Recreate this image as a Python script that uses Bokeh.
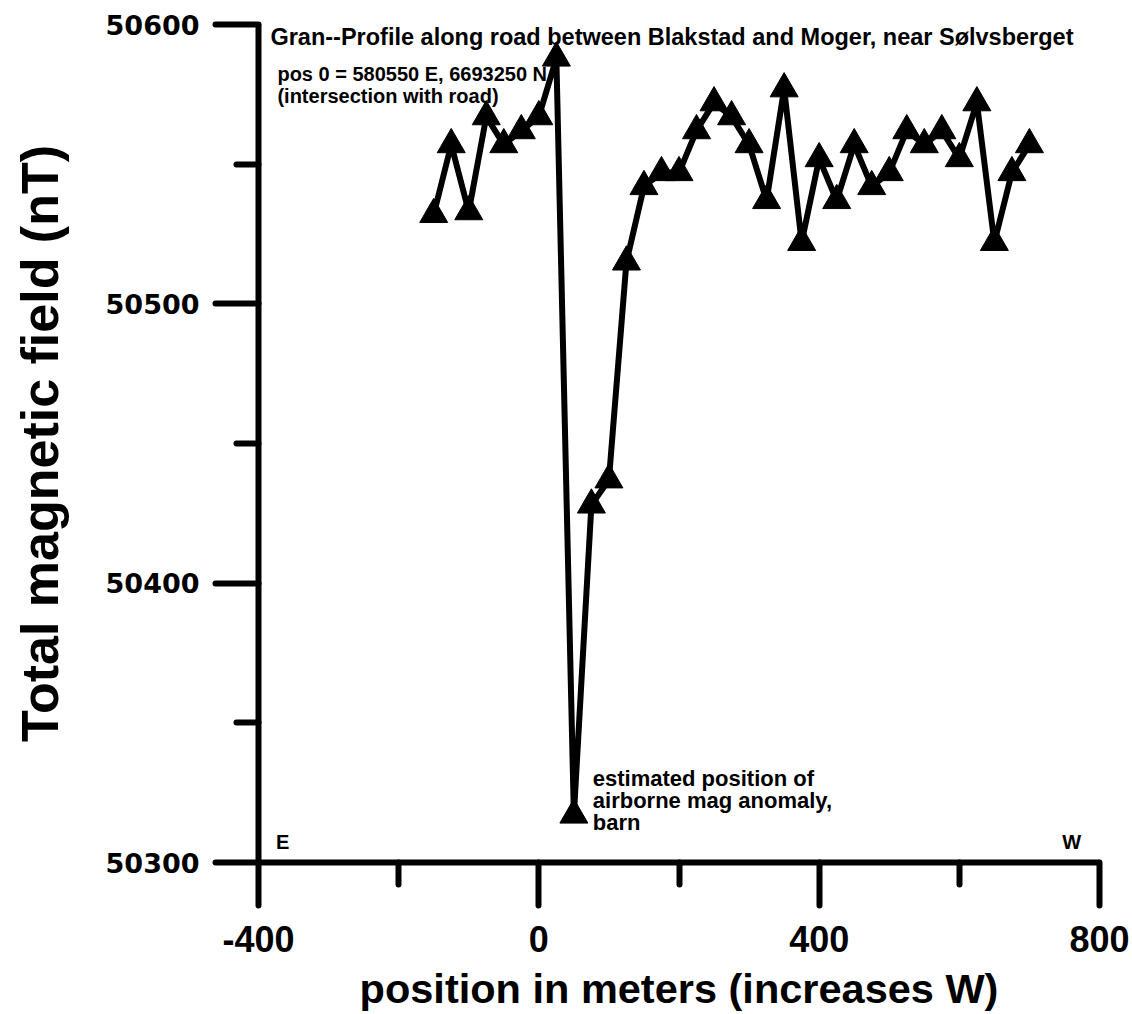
from bokeh.plotting import figure
from bokeh.models import Range1d, Label, FixedTicker
from bokeh.embed import file_html
from bokeh.resources import INLINE

# Profile stations (m, increasing westwards) and total-field readings (nT)
position_m = [-150, -125, -100, -75, -50, -25, 0, 25, 50, 75, 100, 125,
              150, 175, 200, 225, 250, 275, 300, 325, 350, 375, 400, 425,
              450, 475, 500, 525, 550, 575, 600, 625, 650, 675, 700]
field_nT = [50532, 50557, 50533, 50567, 50557, 50562, 50567, 50588, 50317,
            50428, 50437, 50515, 50542, 50547, 50547, 50562, 50572, 50567,
            50557, 50537, 50577, 50522, 50552, 50537, 50557, 50542, 50547,
            50562, 50557, 50562, 50552, 50572, 50522, 50547, 50557]

x_ticks = [-400, 0, 400, 800]
x_minor = [-200, 200, 600]
y_ticks = [50300, 50400, 50500, 50600]
y_minor = [50350, 50450, 50550]

BOLD_FONT = "'Liberation Sans', Arial, sans-serif"

p = figure(width=1132, height=1014, output_backend="svg", toolbar_location=None,
           x_range=Range1d(-400, 800), y_range=Range1d(50300, 50600),
           min_border_left=258, min_border_right=33, min_border_top=24,
           min_border_bottom=151)
p.outline_line_color = None
p.xgrid.visible = False
p.ygrid.visible = False
p.background_fill_color = "white"
p.border_fill_color = "white"

for ax in (p.xaxis[0], p.yaxis[0]):
    ax.axis_line_width = 6
    ax.axis_line_color = "black"
    ax.major_tick_line_width = 6
    ax.major_tick_line_color = "black"
    ax.major_tick_line_cap = "round"
    ax.minor_tick_line_width = 6
    ax.minor_tick_line_color = "black"
    ax.minor_tick_line_cap = "round"
    ax.major_tick_in = 0
    ax.major_tick_out = 43
    ax.minor_tick_in = 0
    ax.minor_tick_out = 22
    ax.major_label_text_font_style = "bold"
    ax.major_label_text_color = "black"
    ax.axis_label_text_font_style = "bold"
    ax.axis_label_text_color = "black"
    ax.axis_label_text_font = BOLD_FONT

p.xaxis.ticker = FixedTicker(ticks=x_ticks, minor_ticks=x_minor)
p.yaxis.ticker = FixedTicker(ticks=y_ticks, minor_ticks=y_minor)
p.xaxis.major_label_overrides = {t: str(t) for t in x_ticks}
p.yaxis.major_label_overrides = {t: str(t) for t in y_ticks}

p.xaxis.major_label_text_font = BOLD_FONT
p.xaxis.major_label_text_font_size = "36px"
p.xaxis.major_label_standoff = 20
p.yaxis.major_label_text_font = "'DejaVu Sans'"
p.yaxis.major_label_text_font_size = "27px"
p.yaxis.major_label_standoff = 16

p.xaxis.axis_label = "position in meters (increases W)"
p.xaxis.axis_label_text_font_size = "41.5px"
p.xaxis.axis_label_standoff = 10
p.yaxis.axis_label = "Total magnetic field (nT)"
p.yaxis.axis_label_text_font_size = "52px"
p.yaxis.axis_label_standoff = 34

# Annotations sit beneath the profile line
def note(text, x, y, size):
    p.add_layout(Label(x=x, y=y, text=text, text_font=BOLD_FONT,
                       text_font_style="bold", text_font_size=size,
                       text_color="black", text_baseline="alphabetic",
                       text_align="left", level="underlay"))

note("Gran--Profile along road between Blakstad and Moger, near S\u00f8lvsberget",
     -383, 50595.6, "23.5px")
note("pos 0 = 580550 E, 6693250 N", -373, 50582.4, "20px")
note("(intersection with road)", -373, 50574.5, "20px")
note("estimated position of", 77, 50330.0, "22px")
note("airborne mag anomaly,", 77, 50322.3, "22px")
note("barn", 77, 50314.3, "22px")
note("E", -375, 50307.5, "20px")
note("W", 747, 50307.5, "20px")

p.line(position_m, field_nT, line_color="black", line_width=6,
       line_join="round")
p.scatter(position_m, field_nT, marker="triangle", size=28,
          fill_color="black", line_color="black", line_width=1)

open("out.html", "w").write(file_html(p, INLINE))
